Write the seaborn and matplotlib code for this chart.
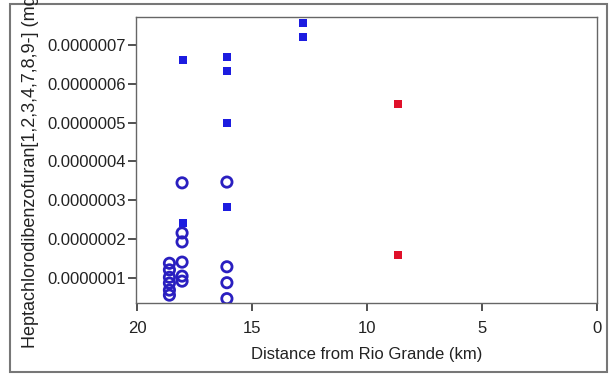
import matplotlib
matplotlib.use("Agg")
import matplotlib.pyplot as plt
import seaborn as sns
from matplotlib.patches import Rectangle

# open circles (blue)
circle_km = [18.6, 18.6, 18.6, 18.6, 18.6, 18.6,
             18.05, 18.05, 18.05, 18.05, 18.05, 18.05,
             16.1, 16.1, 16.1, 16.1]
circle_val = [1.38e-7, 1.21e-7, 1.02e-7, 0.87e-7, 0.69e-7, 0.56e-7,
              3.45e-7, 2.16e-7, 1.93e-7, 1.41e-7, 1.05e-7, 0.92e-7,
              3.47e-7, 1.29e-7, 0.88e-7, 0.47e-7]

# filled squares (blue)
square_km = [18.0, 18.0, 16.1, 16.1, 16.1, 16.1, 12.8, 12.8]
square_val = [6.61e-7, 2.41e-7, 6.70e-7, 6.34e-7, 5.00e-7, 2.84e-7, 7.56e-7, 7.20e-7]

# filled squares (red)
red_km = [8.65, 8.65]
red_val = [5.48e-7, 1.59e-7]

yticks = [1e-7, 2e-7, 3e-7, 4e-7, 5e-7, 6e-7, 7e-7]
ytick_labels = ["0.0000001", "0.0000002", "0.0000003", "0.0000004",
                "0.0000005", "0.0000006", "0.0000007"]
xticks = [20, 15, 10, 5, 0]

sns.set_style("white")
plt.rcParams['font.family'] = ['Liberation Sans', 'DejaVu Sans']

fig = plt.figure(figsize=(6.13, 3.77), dpi=100)
ax = fig.add_axes([0.222, 0.1955, 0.752, 0.7595])

sns.scatterplot(x=circle_km, y=circle_val, ax=ax, marker='o', s=55,
                facecolor='none', edgecolor='#2a1fc0', linewidth=2.0)
sns.scatterplot(x=square_km, y=square_val, ax=ax, marker='s', s=40,
                color='#1c1ce0', edgecolor='#1c1ce0', linewidth=0)
sns.scatterplot(x=red_km, y=red_val, ax=ax, marker='s', s=40,
                color='#e0102a', edgecolor='#e0102a', linewidth=0)

ax.set_xlim(20.05, 0)
ax.set_ylim(0.35e-7, 7.72e-7)
ax.set_xticks(xticks)
ax.set_xticklabels([str(t) for t in xticks])
ax.set_yticks(yticks)
ax.set_yticklabels(ytick_labels)
ax.tick_params(axis='both', direction='out', length=6, width=1.2,
               color='#333333', labelsize=12, labelcolor='#222222',
               left=True, bottom=True, pad=1)
ax.tick_params(axis='x', pad=7)
for sp in ax.spines.values():
    sp.set_color('#666666')
    sp.set_linewidth(1.0)

ax.set_xlabel("Distance from Rio Grande (km)", fontsize=12, color='#222222', labelpad=8)
ax.set_ylabel("")
# axis title runs off the top edge, as in the original graphic
fig.text(0.049, 1 - 348 / 377, "Heptachlorodibenzofuran[1,2,3,4,7,8,9-] (mg/kg)",
         rotation=90, ha='center', va='bottom', fontsize=13, color='#222222')

# outer frame around the whole graphic
fig.patches.append(Rectangle((10 / 613, 5 / 377), 597 / 613, 368 / 377,
                             transform=fig.transFigure, fill=False,
                             edgecolor='#777777', linewidth=1.5))

fig.savefig("out.png", dpi=100)
plt.close(fig)
